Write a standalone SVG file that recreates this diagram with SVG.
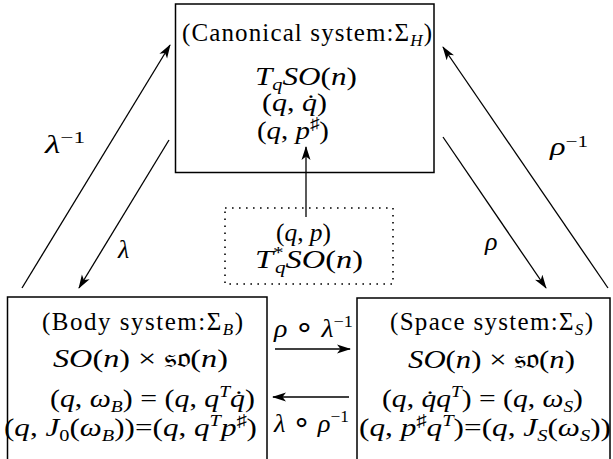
<svg xmlns="http://www.w3.org/2000/svg" width="613" height="459" viewBox="0 0 613 459">
<style>
.s{font-size:17px}
.m{font-size:26px}
.box{fill:#fff;stroke:#000;stroke-width:1.5}
.dot{fill:none;stroke:#000;stroke-width:1.6;stroke-dasharray:1.6 5.4}
.c{stroke:#000;stroke-width:1.3;fill:none;marker-end:url(#ah)}
</style>
<defs>
<marker id="ah" viewBox="0 0 14 10" refX="13" refY="5" markerWidth="14" markerHeight="10" markerUnits="userSpaceOnUse" orient="auto">
<path d="M0,0.5 L14,5 L0,9.5 L3.5,5 Z" fill="#000"/>
</marker>
</defs>
<g font-family="Liberation Serif" font-size="25" fill="#000">
<g id="canonical">
<rect class="box" x="175.5" y="4" width="258.5" height="168.5"/>
<text x="182" y="41" textLength="250" lengthAdjust="spacing">(Canonical system:Σ<tspan class="s" font-style="italic" dy="5">H</tspan><tspan dy="-5">)</tspan></text>
<text class="m" x="255" y="85" textLength="102" lengthAdjust="spacingAndGlyphs"><tspan font-style="italic">T</tspan><tspan class="s" font-style="italic" dy="5">q</tspan><tspan font-style="italic" dy="-5">SO</tspan>(<tspan font-style="italic">n</tspan>)</text>
<text class="m" x="262" y="111" textLength="65" lengthAdjust="spacingAndGlyphs">(<tspan font-style="italic">q</tspan>, <tspan font-style="italic">q̇</tspan>)</text>
<text class="m" x="257" y="139" textLength="72" lengthAdjust="spacingAndGlyphs">(<tspan font-style="italic">q</tspan>, <tspan font-style="italic">p</tspan><tspan class="s" dy="-10">♯</tspan><tspan dy="10">)</tspan></text>
</g>
<g id="cotangent">
<rect class="dot" x="225" y="208" width="168" height="76"/>
<text class="m" x="276" y="241" textLength="55" lengthAdjust="spacingAndGlyphs">(<tspan font-style="italic">q</tspan>, <tspan font-style="italic">p</tspan>)</text>
<text class="m" x="255" y="268" textLength="108" lengthAdjust="spacingAndGlyphs"><tspan font-style="italic">T</tspan><tspan class="s" dy="-10">*</tspan><tspan class="s" font-style="italic" dx="-7" dy="15">q</tspan><tspan font-style="italic" dy="-5">SO</tspan>(<tspan font-style="italic">n</tspan>)</text>
</g>
<g id="body">
<rect class="box" x="7.5" y="297" width="259.5" height="175"/>
<text x="42" y="330" textLength="201" lengthAdjust="spacing">(Body system:Σ<tspan class="s" font-style="italic" dy="5">B</tspan><tspan dy="-5">)</tspan></text>
<text class="m" x="53" y="367" textLength="175" lengthAdjust="spacingAndGlyphs"><tspan font-style="italic">SO</tspan>(<tspan font-style="italic">n</tspan>) × <tspan font-family="DejaVu Sans" font-size="27">𝔰𝔬</tspan>(<tspan font-style="italic">n</tspan>)</text>
<text class="m" x="50" y="407" textLength="205" lengthAdjust="spacingAndGlyphs">(<tspan font-style="italic">q</tspan>, <tspan font-style="italic">ω</tspan><tspan class="s" font-style="italic" dy="5">B</tspan><tspan dy="-5">) = (</tspan><tspan font-style="italic">q</tspan>, <tspan font-style="italic">q</tspan><tspan class="s" font-style="italic" dy="-10">T</tspan><tspan font-style="italic" dy="10">q̇</tspan>)</text>
<text class="m" x="4" y="436" textLength="253" lengthAdjust="spacingAndGlyphs">(<tspan font-style="italic">q</tspan>, <tspan font-style="italic">J</tspan><tspan class="s" dy="5">0</tspan><tspan dy="-5">(</tspan><tspan font-style="italic">ω</tspan><tspan class="s" font-style="italic" dy="5">B</tspan><tspan dy="-5">))=(</tspan><tspan font-style="italic">q</tspan>, <tspan font-style="italic">q</tspan><tspan class="s" font-style="italic" dy="-10">T</tspan><tspan font-style="italic" dy="10">p</tspan><tspan class="s" dy="-10">♯</tspan><tspan dy="10">)</tspan></text>
</g>
<g id="space">
<rect class="box" x="357" y="298" width="253" height="175"/>
<text x="390" y="330" textLength="203" lengthAdjust="spacing">(Space system:Σ<tspan class="s" font-style="italic" dy="5">S</tspan><tspan dy="-5">)</tspan></text>
<text class="m" x="408" y="368" textLength="167" lengthAdjust="spacingAndGlyphs"><tspan font-style="italic">SO</tspan>(<tspan font-style="italic">n</tspan>) × <tspan font-family="DejaVu Sans" font-size="27">𝔰𝔬</tspan>(<tspan font-style="italic">n</tspan>)</text>
<text class="m" x="382" y="407" textLength="201" lengthAdjust="spacingAndGlyphs">(<tspan font-style="italic">q</tspan>, <tspan font-style="italic">q̇q</tspan><tspan class="s" font-style="italic" dy="-10">T</tspan><tspan dy="10">) = (</tspan><tspan font-style="italic">q</tspan>, <tspan font-style="italic">ω</tspan><tspan class="s" font-style="italic" dy="5">S</tspan><tspan dy="-5">)</tspan></text>
<text class="m" x="359" y="436" textLength="252" lengthAdjust="spacingAndGlyphs">(<tspan font-style="italic">q</tspan>, <tspan font-style="italic">p</tspan><tspan class="s" dy="-10">♯</tspan><tspan font-style="italic" dy="10">q</tspan><tspan class="s" font-style="italic" dy="-10">T</tspan><tspan dy="10">)=(</tspan><tspan font-style="italic">q</tspan>, <tspan font-style="italic">J</tspan><tspan class="s" font-style="italic" dy="5">S</tspan><tspan dy="-5">(</tspan><tspan font-style="italic">ω</tspan><tspan class="s" font-style="italic" dy="5">S</tspan><tspan dy="-5">))</tspan></text>
</g>
<g id="connectors">
<line class="c" x1="306" y1="217" x2="306" y2="147"/>
<line class="c" x1="22" y1="288" x2="170" y2="45"/>
<line class="c" x1="169" y1="140" x2="79" y2="288"/>
<line class="c" x1="608" y1="288" x2="443" y2="47"/>
<line class="c" x1="443" y1="137" x2="546" y2="288"/>
<line class="c" x1="275" y1="349" x2="350" y2="349"/>
<line class="c" x1="349" y1="397" x2="273" y2="397"/>
<text class="m" x="45" y="153" textLength="40" lengthAdjust="spacingAndGlyphs"><tspan font-style="italic">λ</tspan><tspan class="s" dy="-10">−1</tspan></text>
<text class="m" x="118" y="258" font-style="italic">λ</text>
<text class="m" x="550" y="155" textLength="38" lengthAdjust="spacingAndGlyphs"><tspan font-style="italic">ρ</tspan><tspan class="s" dy="-8">−1</tspan></text>
<text class="m" x="485" y="250" font-style="italic">ρ</text>
<text class="m" x="274" y="337" textLength="79" lengthAdjust="spacingAndGlyphs"><tspan font-style="italic">ρ</tspan> <tspan font-family="DejaVu Sans" font-size="30">∘</tspan> <tspan font-style="italic">λ</tspan><tspan class="s" dy="-10">−1</tspan></text>
<text class="m" x="274" y="432" textLength="75" lengthAdjust="spacingAndGlyphs"><tspan font-style="italic">λ</tspan> <tspan font-family="DejaVu Sans" font-size="30">∘</tspan> <tspan font-style="italic">ρ</tspan><tspan class="s" dy="-10">−1</tspan></text>
</g>
</g>
</svg>
